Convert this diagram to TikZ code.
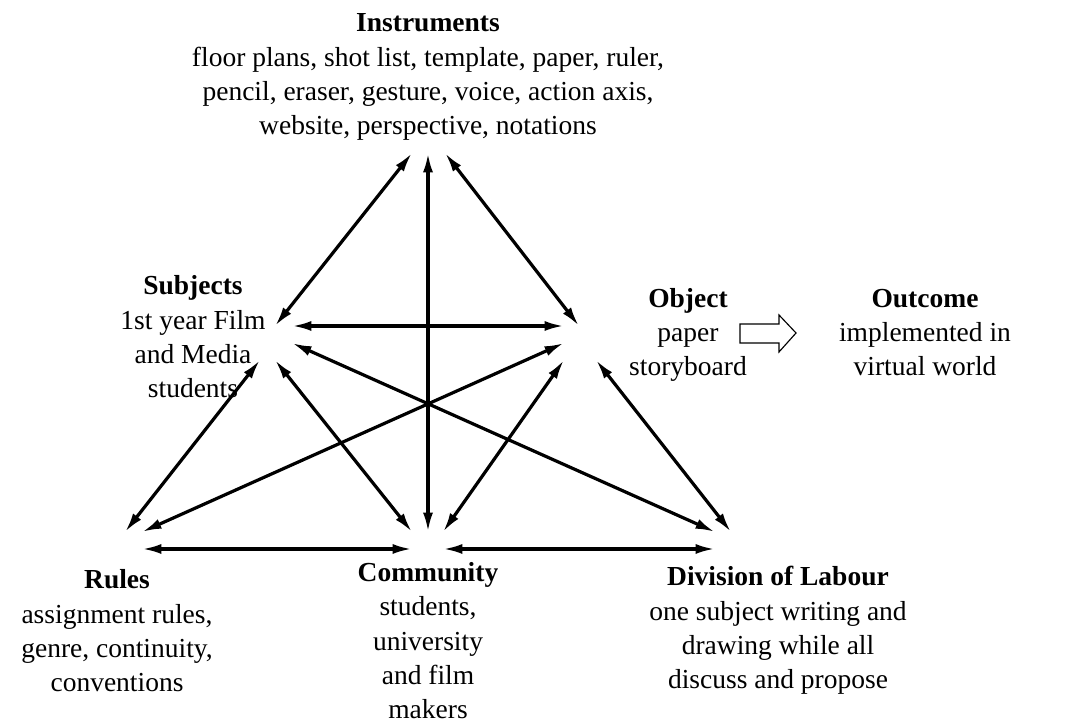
\documentclass[tikz,border=0pt]{standalone}
\usepackage{fontspec}
\setmainfont{Liberation Serif}
\usetikzlibrary{arrows.meta}
\tikzset{
  label text/.style={text=drawColor,anchor=base,align=center,inner sep=0pt,outer sep=0pt,
    font=\fontsize{12}{15}\selectfont},
  link/.style={draw=drawColor,line width=1.4pt,line join=round,
    {Latex[length=8.5pt,width=4.4pt]}-{Latex[length=8.5pt,width=4.4pt]}}
}
\begin{document}
\begin{tikzpicture}[x=0.4364pt,y=0.4364pt]
\definecolor{fillColor}{RGB}{255,255,255}
\definecolor{drawColor}{RGB}{0,0,0}
\path[use as bounding box,fill=fillColor] (0,0) rectangle (1069,724);

% texts (anchored at the baseline of the last line)
\node[label text] (instruments) at (428,589) {\bfseries Instruments\\
  floor plans, shot list, template, paper, ruler,\\
  pencil, eraser, gesture, voice, action axis,\\
  website, perspective, notations};

\node[label text] (subjects) at (193,326) {\bfseries Subjects\\
  1st year Film\\ and Media\\ students};

\node[label text] (object) at (688,348) {\bfseries Object\\ paper\\ storyboard};

\node[label text] (outcome) at (925,348) {\bfseries Outcome\\
  implemented in\\ virtual world};

\node[label text] (rules) at (117,32) {\bfseries Rules\\
  assignment rules,\\ genre, continuity,\\ conventions};

\node[label text] (community) at (428,5) {\bfseries Community\\
  students,\\ university\\ and film\\ makers};

\node[label text] (division) at (778,35) {\bfseries Division of Labour\\
  one subject writing and\\ drawing while all\\ discuss and propose};

% arrow ends
\coordinate (i-s) at (412,571);
\coordinate (i-c) at (428,571);
\coordinate (i-o) at (445,571);
\coordinate (s-i) at (275,398);
\coordinate (s-o) at (292,398);
\coordinate (s-d) at (292,381);
\coordinate (s-r) at (260,364);
\coordinate (s-c) at (275,364);
\coordinate (o-i) at (579,398);
\coordinate (o-s) at (564,398);
\coordinate (o-r) at (564,381);
\coordinate (o-c) at (564,364);
\coordinate (o-d) at (596,364);
\coordinate (r-s) at (125,192);
\coordinate (r-o) at (142,192);
\coordinate (r-c) at (142,175);
\coordinate (c-s) at (412,192);
\coordinate (c-i) at (428,192);
\coordinate (c-o) at (443,192);
\coordinate (c-r) at (412,175);
\coordinate (c-d) at (443,175);
\coordinate (d-s) at (715,192);
\coordinate (d-o) at (731,192);
\coordinate (d-c) at (715,175);

% links
\path[link] (i-s) -- (s-i);
\path[link] (i-c) -- (c-i);
\path[link] (i-o) -- (o-i);
\path[link] (s-o) -- (o-s);
\path[link] (s-r) -- (r-s);
\path[link] (s-c) -- (c-s);
\path[link] (s-d) -- (d-s);
\path[link] (o-r) -- (r-o);
\path[link] (o-c) -- (c-o);
\path[link] (o-d) -- (d-o);
\path[link] (r-c) -- (c-r);
\path[link] (c-d) -- (d-c);

% outcome arrow
\path[draw=drawColor,line width=0.5pt,line join=miter] (740,400) -- (779,400) -- (779,409) --
	(796,391) --
	(779,372) --
	(779,381) --
	(740,381) -- cycle;
\end{tikzpicture}
\end{document}
